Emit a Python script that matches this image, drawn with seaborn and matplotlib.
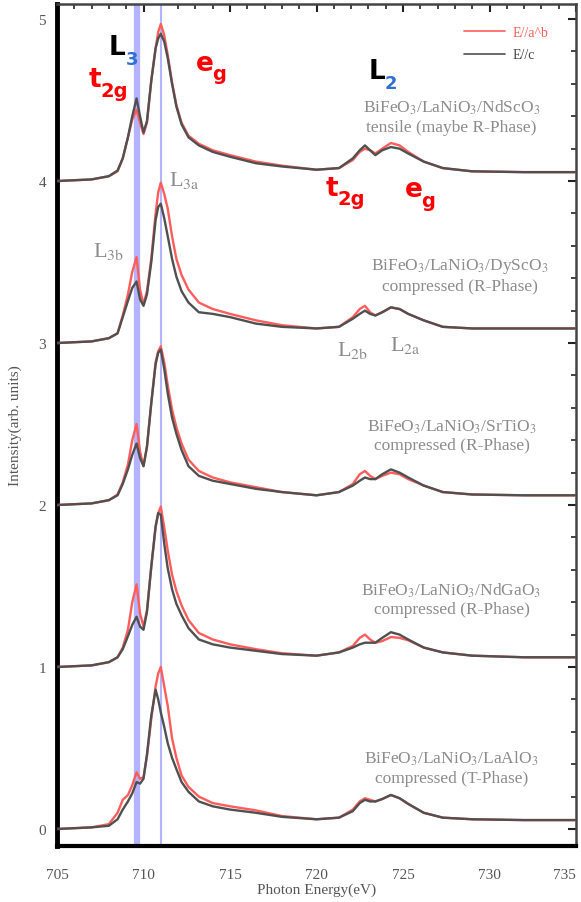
import numpy as np
import pandas as pd
import matplotlib
matplotlib.use("Agg")
import matplotlib.pyplot as plt
from matplotlib.lines import Line2D
from matplotlib.ticker import MultipleLocator
import seaborn as sns

# Fe L-edge XAS spectra, stacked with an offset of 1 per sample
energy = [705.0, 707.0, 708.0, 708.5, 708.8, 709.1, 709.35, 709.6, 709.8, 710.0,
          710.2, 710.45, 710.7, 710.85, 711.0, 711.2, 711.4, 711.65, 711.9, 712.2,
          712.6, 713.2, 714.0, 715.0, 716.5, 718.0, 720.0, 721.3, 722.1, 722.5,
          722.8, 723.1, 723.4, 723.8, 724.3, 724.8, 725.3, 726.2, 727.3, 729.0,
          732.0, 735.0]

ndsco_ab = [4.00, 4.01, 4.03, 4.06, 4.14, 4.27, 4.38, 4.44, 4.36, 4.29,
            4.36, 4.62, 4.82, 4.92, 4.97, 4.90, 4.78, 4.61, 4.47, 4.36,
            4.28, 4.23, 4.19, 4.16, 4.12, 4.095, 4.07, 4.08, 4.13, 4.18,
            4.20, 4.19, 4.17, 4.20, 4.235, 4.22, 4.18, 4.12, 4.08, 4.06,
            4.055, 4.055]
ndsco_c = [4.00, 4.01, 4.03, 4.065, 4.14, 4.27, 4.40, 4.51, 4.40, 4.30,
           4.37, 4.62, 4.82, 4.88, 4.91, 4.86, 4.76, 4.60, 4.46, 4.35,
           4.27, 4.22, 4.18, 4.15, 4.11, 4.09, 4.07, 4.08, 4.14, 4.19,
           4.22, 4.19, 4.16, 4.19, 4.21, 4.20, 4.17, 4.12, 4.08, 4.06,
           4.055, 4.055]

dysco_ab = [3.00, 3.01, 3.03, 3.06, 3.17, 3.30, 3.44, 3.53, 3.33, 3.24,
            3.32, 3.52, 3.80, 3.93, 3.99, 3.92, 3.83, 3.66, 3.52, 3.42,
            3.33, 3.25, 3.21, 3.18, 3.14, 3.11, 3.09, 3.10, 3.16, 3.21,
            3.23, 3.19, 3.17, 3.19, 3.22, 3.21, 3.18, 3.14, 3.10, 3.09,
            3.09, 3.09]
dysco_c = [3.00, 3.01, 3.03, 3.06, 3.16, 3.26, 3.34, 3.38, 3.27, 3.23,
           3.30, 3.50, 3.76, 3.84, 3.86, 3.77, 3.66, 3.52, 3.41, 3.32,
           3.25, 3.19, 3.18, 3.16, 3.12, 3.10, 3.09, 3.10, 3.15, 3.18,
           3.20, 3.18, 3.17, 3.19, 3.22, 3.21, 3.18, 3.14, 3.10, 3.09,
           3.09, 3.09]

srtio_ab = [2.00, 2.01, 2.03, 2.065, 2.14, 2.25, 2.40, 2.50, 2.33, 2.24,
            2.36, 2.63, 2.88, 2.95, 2.98, 2.88, 2.74, 2.59, 2.48, 2.38,
            2.28, 2.21, 2.17, 2.14, 2.11, 2.08, 2.06, 2.08, 2.13, 2.19,
            2.21, 2.18, 2.16, 2.18, 2.20, 2.19, 2.16, 2.12, 2.08, 2.065,
            2.06, 2.06]
srtio_c = [2.00, 2.01, 2.03, 2.06, 2.13, 2.22, 2.31, 2.38, 2.29, 2.24,
           2.36, 2.63, 2.87, 2.94, 2.96, 2.84, 2.69, 2.54, 2.44, 2.34,
           2.24, 2.18, 2.15, 2.13, 2.10, 2.08, 2.06, 2.08, 2.12, 2.15,
           2.17, 2.16, 2.16, 2.19, 2.22, 2.20, 2.17, 2.12, 2.08, 2.065,
           2.06, 2.06]

ndgao_ab = [1.00, 1.01, 1.03, 1.06, 1.12, 1.23, 1.40, 1.51, 1.33, 1.25,
            1.35, 1.62, 1.86, 1.95, 1.99, 1.86, 1.72, 1.57, 1.47, 1.38,
            1.29, 1.21, 1.17, 1.14, 1.11, 1.085, 1.07, 1.09, 1.13, 1.18,
            1.20, 1.17, 1.15, 1.16, 1.185, 1.18, 1.165, 1.12, 1.09, 1.07,
            1.06, 1.06]
ndgao_c = [1.00, 1.01, 1.03, 1.06, 1.11, 1.19, 1.26, 1.31, 1.25, 1.23,
           1.34, 1.62, 1.87, 1.95, 1.94, 1.76, 1.61, 1.48, 1.39, 1.32,
           1.24, 1.17, 1.14, 1.12, 1.10, 1.08, 1.07, 1.09, 1.12, 1.14,
           1.15, 1.15, 1.15, 1.18, 1.215, 1.20, 1.17, 1.12, 1.09, 1.07,
           1.06, 1.06]

laalo_ab = [0.00, 0.01, 0.03, 0.10, 0.18, 0.21, 0.27, 0.35, 0.31, 0.32,
            0.45, 0.68, 0.88, 0.96, 1.00, 0.88, 0.76, 0.56, 0.44, 0.33,
            0.26, 0.20, 0.16, 0.14, 0.115, 0.08, 0.06, 0.07, 0.12, 0.17,
            0.19, 0.18, 0.17, 0.185, 0.21, 0.19, 0.155, 0.10, 0.07, 0.06,
            0.055, 0.055]
laalo_c = [0.00, 0.01, 0.02, 0.06, 0.12, 0.17, 0.22, 0.29, 0.28, 0.31,
           0.46, 0.70, 0.86, 0.80, 0.72, 0.63, 0.53, 0.44, 0.37, 0.29,
           0.23, 0.17, 0.14, 0.12, 0.10, 0.075, 0.06, 0.07, 0.11, 0.16,
           0.18, 0.17, 0.17, 0.185, 0.21, 0.19, 0.155, 0.10, 0.07, 0.06,
           0.055, 0.055]

samples = ["NdScO3", "DyScO3", "SrTiO3", "NdGaO3", "LaAlO3"]
spectra_ab = [ndsco_ab, dysco_ab, srtio_ab, ndgao_ab, laalo_ab]
spectra_c = [ndsco_c, dysco_c, srtio_c, ndgao_c, laalo_c]

sample_titles = [
    "BiFeO$_3$/LaNiO$_3$/NdScO$_3$\ntensile (maybe R-Phase)",
    "BiFeO$_3$/LaNiO$_3$/DyScO$_3$\ncompressed (R-Phase)",
    "BiFeO$_3$/LaNiO$_3$/SrTiO$_3$\ncompressed (R-Phase)",
    "BiFeO$_3$/LaNiO$_3$/NdGaO$_3$\ncompressed (R-Phase)",
    "BiFeO$_3$/LaNiO$_3$/LaAlO$_3$\ncompressed (T-Phase)",
]
title_pos = [(727.8, 4.40), (728.3, 3.42), (727.8, 2.43), (727.8, 1.42), (727.8, 0.38)]

pol_labels = ["E//a^b", "E//c"]
x_ticks = [705, 710, 715, 720, 725, 730, 735]
y_ticks = [0, 1, 2, 3, 4, 5]

RED = "#ff5c5c"
GRAY = "#505050"
BLUE = "#b3b3ff"
TXT = "#8c8c8c"

rows = []
for name, ab, c in zip(samples, spectra_ab, spectra_c):
    for e, v in zip(energy, ab):
        rows.append((name, pol_labels[0], e, v))
    for e, v in zip(energy, c):
        rows.append((name, pol_labels[1], e, v))
df = pd.DataFrame(rows, columns=["sample", "pol", "energy", "intensity"])

sns.set_theme(style="white")
plt.rcParams["font.family"] = ["Liberation Serif", "DejaVu Serif"]
plt.rcParams["mathtext.fontset"] = "stix"

fig = plt.figure(figsize=(5.81, 9.03), dpi=100)
ax = fig.add_axes([57 / 581, 1 - 847 / 903, (576 - 57) / 581, (847 - 5) / 903])

ax.axvline(709.6, color=BLUE, lw=4.5, zorder=1)
ax.axvline(711.0, color=BLUE, lw=1.5, zorder=1)

for name in samples:
    sub = df[df["sample"] == name]
    sns.lineplot(data=sub, x="energy", y="intensity", hue="pol",
                 hue_order=pol_labels, palette=[RED, GRAY], lw=1.7,
                 legend=False, ax=ax, zorder=3, estimator=None, sort=True)

ax.set_xlim(705, 735)
ax.set_ylim(-0.105, 5.093)
ax.set_xticks(x_ticks)
ax.set_yticks(y_ticks)
ax.xaxis.set_minor_locator(MultipleLocator(1))
ax.yaxis.set_minor_locator(MultipleLocator(0.2))
ax.tick_params(which="both", direction="in", top=True, right=True,
               colors="#222222", labelcolor="#555555", labelsize=11)
ax.tick_params(which="major", length=6, width=1.5)
ax.tick_params(which="minor", length=3.5, width=1.2)
ax.tick_params(axis="x", pad=16)
ax.tick_params(axis="y", pad=8)
ax.get_xticklabels()[-1].set_horizontalalignment("right")

for side, lw, col in [("left", 3.5, "black"), ("bottom", 3.0, "black"),
                      ("top", 1.8, "#444444"), ("right", 1.8, "#444444")]:
    ax.spines[side].set_visible(True)
    ax.spines[side].set_linewidth(lw)
    ax.spines[side].set_color(col)

ax.set_xlabel("Photon Energy(eV)", fontsize=11, color="#555555", labelpad=1)
ax.set_ylabel("Intensity(arb. units)", fontsize=11, color="#555555", labelpad=12)

# sample descriptions
for (x, y), t in zip(title_pos, sample_titles):
    ax.text(x, y, t, ha="center", va="center", fontsize=12.5, color=TXT,
            linespacing=1.2)

# peak labels
for x, y, main, sub in [(711.5, 4.01, "L", "3a"), (707.1, 3.57, "L", "3b"),
                        (721.2, 2.96, "L", "2b"), (724.25, 2.99, "L", "2a")]:
    ax.text(x, y, main + "$_{\\mathrm{" + sub + "}}$", ha="left", va="center",
            fontsize=16, color=TXT)

bold = dict(family=["DejaVu Sans"], fontweight="bold")
ax.text(708.0, 4.83, "L", ha="left", va="center", fontsize=19, color="black", **bold)
ax.annotate("3", (708.0, 4.83), xytext=(12, -9), textcoords="offset points",
            ha="left", va="center", fontsize=13, color="#2f6fd6", **bold)
ax.text(723.0, 4.68, "L", ha="left", va="center", fontsize=19, color="black", **bold)
ax.annotate("2", (723.0, 4.68), xytext=(12, -9), textcoords="offset points",
            ha="left", va="center", fontsize=13, color="#2f6fd6", **bold)

for x, y, main, sub in [(706.8, 4.63, "t", "2g"), (713.0, 4.73, "e", "g"),
                        (720.5, 3.96, "t", "2g"), (725.1, 3.95, "e", "g")]:
    ax.text(x, y, main, ha="left", va="center", fontsize=19, color="red", **bold)
    ax.annotate(sub, (x, y), xytext=(9 if main == "t" else 12, -8),
                textcoords="offset points", ha="left", va="center",
                fontsize=14, color="red", **bold)

handles = [Line2D([], [], color=RED, lw=1.2), Line2D([], [], color=GRAY, lw=1.2)]
ax.legend(handles, pol_labels, loc="upper right", bbox_to_anchor=(0.965, 0.985),
          frameon=False, fontsize=10, handlelength=3.0, labelcolor=[RED, "#444444"],
          borderaxespad=0.3, labelspacing=0.65, handletextpad=0.5)

fig.savefig("out.png", dpi=100)
